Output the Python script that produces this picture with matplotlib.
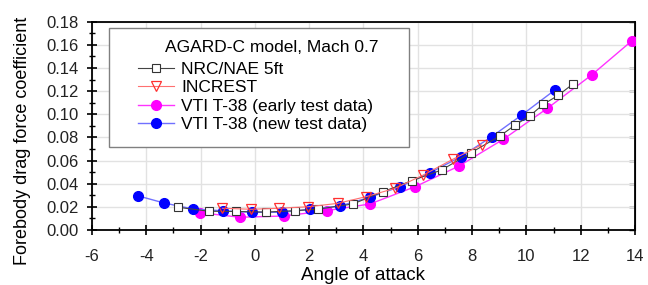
import numpy as np
import matplotlib
matplotlib.use("Agg")
import matplotlib.pyplot as plt
from matplotlib.patches import Rectangle
from matplotlib.ticker import MultipleLocator, FormatStrFormatter

plt.rcParams['font.family'] = ['Liberation Sans', 'DejaVu Sans']
plt.rcParams['axes.unicode_minus'] = False

# NRC/NAE 5ft
nrc_x = [-2.82, -1.69, -0.68, 0.41, 1.48, 2.32, 3.61, 4.72, 5.78, 6.88, 7.96,
         9.03, 9.58, 10.13, 10.62, 11.17, 11.73]
nrc_y = [0.0196, 0.0162, 0.0160, 0.0155, 0.0167, 0.0180, 0.0225, 0.0331, 0.0426,
         0.0519, 0.0668, 0.0813, 0.0906, 0.0987, 0.1086, 0.1163, 0.1265]

# INCREST
inc_x = [-1.20, -0.14, 0.90, 1.97, 3.05, 4.09, 5.16, 6.20, 7.29, 8.35]
inc_y = [0.0188, 0.0179, 0.0188, 0.0201, 0.0230, 0.0288, 0.0360, 0.0475, 0.0611, 0.0735]

# VTI T-38 early test data
early_x = [-2.02, -0.55, 1.07, 2.64, 4.24, 5.90, 7.52, 9.15, 10.77, 12.40, 13.89]
early_y = [0.0150, 0.0110, 0.0121, 0.0167, 0.0225, 0.0374, 0.0553, 0.0784, 0.1051,
           0.1339, 0.1636]

# VTI T-38 new test data
new_x = [-4.32, -3.34, -2.27, -1.17, -0.12, 0.99, 2.03, 3.13, 4.24, 5.34, 6.45,
         7.59, 8.72, 9.83, 11.05]
new_y = [0.0296, 0.0233, 0.0181, 0.0166, 0.0153, 0.0153, 0.0179, 0.0207, 0.0283,
         0.0374, 0.0495, 0.0634, 0.0806, 0.0994, 0.1210]

fig = plt.figure(figsize=(6.48, 2.85), dpi=100)
ax = fig.add_axes([92/648, 1 - 230/285, 543/648, 208.3/285])

ax.plot(early_x, early_y, '-', color='#ff33ff', lw=1.0, marker='o', ms=7,
        mfc='#ff00ff', mec='#ff00ff', label='VTI T-38 (early test data)', zorder=3)
ax.plot(new_x, new_y, '-', color='#7070ff', lw=1.0, marker='o', ms=7,
        mfc='#0000ff', mec='#0000ff', label='VTI T-38 (new test data)', zorder=4)
ax.plot(nrc_x, nrc_y, '-', color='#444444', lw=0.8, marker='s', ms=6,
        mfc='white', mec='#333333', mew=0.8, label='NRC/NAE 5ft', zorder=5)
ax.plot(inc_x, inc_y, '-', color='#ff7070', lw=0.8, marker='v', ms=7.5,
        mfc='none', mec='#ff3030', mew=0.9, label='INCREST', zorder=6)

ax.set_xlim(-6, 14)
ax.set_ylim(0, 0.18)
ax.xaxis.set_major_locator(MultipleLocator(2))
ax.xaxis.set_minor_locator(MultipleLocator(1))
ax.yaxis.set_major_locator(MultipleLocator(0.02))
ax.yaxis.set_minor_locator(MultipleLocator(0.01))
ax.yaxis.set_major_formatter(FormatStrFormatter('%.2f'))
ax.grid(True, which='major', color='#e2e2e2', lw=1.0, zorder=0)
ax.set_axisbelow(True)

ax.tick_params(which='major', direction='inout', length=7.5, width=1.2,
               labelsize=12, color='black', labelcolor='#222222')
ax.tick_params(which='minor', direction='inout', length=4.5, width=1.0)
ax.tick_params(axis='y', which='major', pad=6)
ax.tick_params(axis='x', which='major', pad=10)
for s in ax.spines.values():
    s.set_linewidth(1.3)

# small inward ticks on the right spine
rax = ax.secondary_yaxis('right')
rax.yaxis.set_major_locator(MultipleLocator(0.02))
rax.tick_params(direction='in', length=4, width=1.0, labelright=False)

ax.set_xlabel('Angle of attack', fontsize=13.5)
ax.set_ylabel('Forebody drag force coefficient', fontsize=13)
ax.xaxis.set_label_coords(0.5, -0.18)
ax.yaxis.set_label_coords(-0.112, 0.43)

# legend box
ax.add_patch(Rectangle((17/543, 83/208.3), 300/543, 119/208.3, transform=ax.transAxes,
                       facecolor='white', edgecolor='#808080', lw=1.0, zorder=7))
ax.text((272 - 92)/543, (230 - 48)/208.3, 'AGARD-C model, Mach 0.7', fontsize=12.5,
        ha='center', va='center', transform=ax.transAxes, zorder=8)
h, l = ax.get_legend_handles_labels()
order = [2, 3, 0, 1]
leg = ax.legend([h[i] for i in order], [l[i] for i in order], loc='upper left',
                bbox_to_anchor=((141 - 92)/543 - 0.012, (230 - 58)/208.3),
                frameon=False, fontsize=12.5, handlelength=2.1, handletextpad=0.4,
                labelspacing=0.2, borderpad=0.2, borderaxespad=0)
leg.set_zorder(9)

fig.savefig('out.png', dpi=100)
